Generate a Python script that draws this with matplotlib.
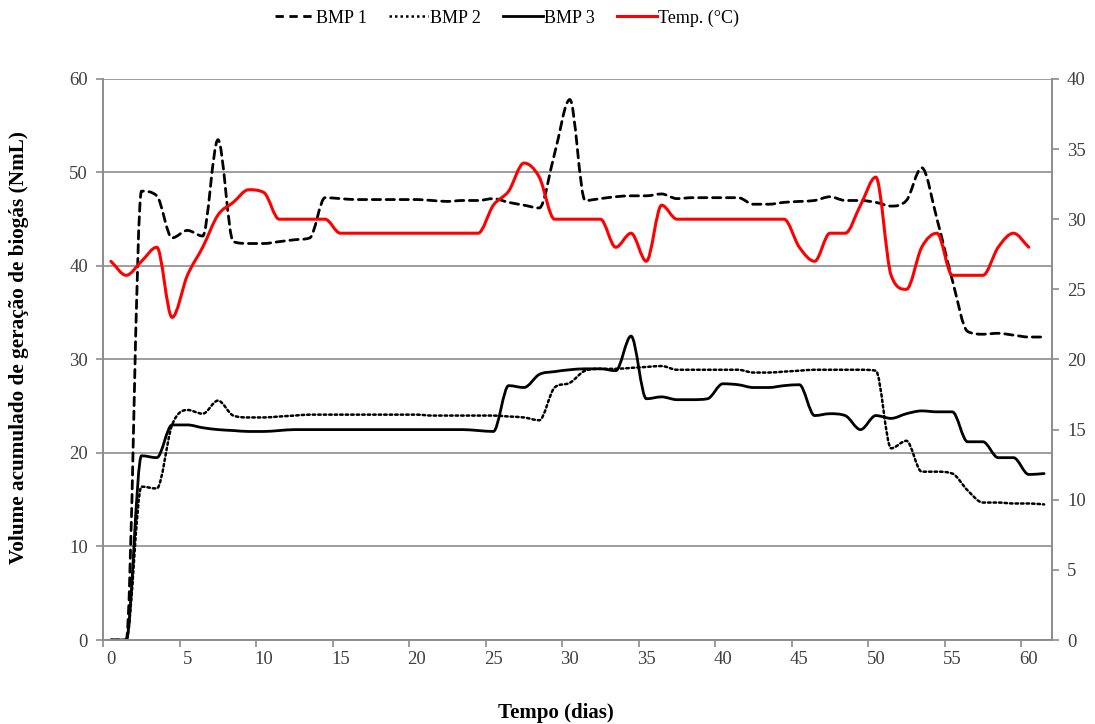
import numpy as np
import matplotlib

matplotlib.use("Agg")
import matplotlib.pyplot as plt
from matplotlib.lines import Line2D
from matplotlib.patches import PathPatch
from matplotlib.path import Path

plt.rcParams["font.family"] = ["Liberation Serif", "DejaVu Serif"]

days = list(range(62))
temp_days = list(range(61))

bmp1 = [0, 0, 48, 47.5, 43, 43.8, 43.2, 53.5, 42.6, 42.4,
        42.4, 42.6, 42.8, 43, 47.3, 47.2, 47.1, 47.1, 47.1, 47.1,
        47.1, 47.0, 46.9, 47, 47, 47.2, 46.8, 46.5, 46.2, 52,
        57.8, 47, 47.2, 47.4, 47.5, 47.5, 47.7, 47.2, 47.3, 47.3,
        47.3, 47.3, 46.6, 46.6, 46.8, 46.9, 47.0, 47.4, 47, 47,
        46.8, 46.4, 47, 50.5, 45, 38.5, 33, 32.7, 32.8, 32.6,
        32.4, 32.4]

bmp2 = [0, 0, 16.4, 16.2, 23, 24.6, 24.2, 25.6, 24, 23.8,
        23.8, 23.9, 24, 24.1, 24.1, 24.1, 24.1, 24.1, 24.1, 24.1,
        24.1, 24, 24, 24, 24, 24, 23.9, 23.8, 23.5, 27,
        27.5, 28.8, 29, 29, 29.1, 29.2, 29.3, 28.9, 28.9, 28.9,
        28.9, 28.9, 28.6, 28.6, 28.7, 28.8, 28.9, 28.9, 28.9, 28.9,
        28.8, 20.5, 21.3, 18, 18, 17.8, 16, 14.7, 14.7, 14.6,
        14.6, 14.5]

bmp3 = [0, 0, 19.7, 19.5, 23, 23, 22.7, 22.5, 22.4, 22.3,
        22.3, 22.4, 22.5, 22.5, 22.5, 22.5, 22.5, 22.5, 22.5, 22.5,
        22.5, 22.5, 22.5, 22.5, 22.4, 22.3, 27.2, 27, 28.4, 28.7,
        28.9, 29, 29, 28.8, 32.5, 25.8, 26, 25.7, 25.7, 25.8,
        27.4, 27.3, 27.0, 27, 27.2, 27.3, 24, 24.2, 24, 22.5,
        24, 23.7, 24.2, 24.5, 24.4, 24.4, 21.2, 21.2, 19.5, 19.5,
        17.7, 17.8]

temp = [27, 26, 27, 28, 23, 26, 28, 30.3, 31.2, 32.1,
        31.9, 30, 30, 30, 30, 29, 29, 29, 29, 29,
        29, 29, 29, 29, 29, 31, 32, 34, 33, 30,
        30, 30, 30, 28, 29, 27, 31, 30, 30, 30,
        30, 30, 30, 30, 30, 28, 27, 29, 29, 31,
        33, 26, 25, 28, 29, 26, 26, 26, 28, 29,
        28]

labels = ["BMP 1", "BMP 2", "BMP 3", "Temp. (°C)"]
GRAY = "#8c8c8c"
TXT = "#404040"


def smooth_path(x, y):
    # cubic bezier through the points, tangents limited so peaks stay on the data
    x = np.asarray(x, float)
    y = np.asarray(y, float)
    d = np.diff(y) / np.diff(x)
    m = np.zeros_like(y)
    m[0], m[-1] = d[0], d[-1]
    for k in range(1, len(y) - 1):
        if d[k - 1] * d[k] > 0:
            s = (d[k - 1] + d[k]) / 2
            lim = 3 * min(abs(d[k - 1]), abs(d[k]))
            m[k] = np.sign(s) * min(abs(s), lim)
    verts = [(x[0], y[0])]
    codes = [Path.MOVETO]
    for i in range(len(x) - 1):
        h = (x[i + 1] - x[i]) / 3
        verts += [(x[i] + h, y[i] + m[i] * h),
                  (x[i + 1] - h, y[i + 1] - m[i + 1] * h),
                  (x[i + 1], y[i + 1])]
        codes += [Path.CURVE4] * 3
    return Path(verts, codes)


fig = plt.figure(figsize=(10.95, 7.24), dpi=100)
ax = fig.add_axes([0.0943, 0.116, 0.8662, 0.775])
ax2 = ax.twinx()

styles = [
    (bmp1, dict(color="black", lw=2.0, linestyle=(0, (3, 2)))),
    (bmp2, dict(color="black", lw=1.8, linestyle=(0, (1, 1.2)))),
    (bmp3, dict(color="black", lw=2.0, linestyle="-")),
]
for vals, st in styles:
    ax.add_patch(PathPatch(smooth_path(days, vals), fill=False,
                           capstyle="round", joinstyle="round", **st))
ax2.add_patch(PathPatch(smooth_path(temp_days, temp), fill=False, color="red",
                        lw=2.2, capstyle="round", joinstyle="round"))

ax.set_xlim(-0.5, 61.5)
ax.set_ylim(0, 60)
ax2.set_ylim(0, 40)

ax.set_yticks(range(0, 61, 10))
ax2.set_yticks(range(0, 41, 5))
ax.set_xticks(range(0, 61, 5))
ax.set_xticks(np.arange(-0.5, 61, 5), minor=True)
ax.tick_params(axis="x", which="major", length=0, pad=8, labelsize=13.5, labelcolor=TXT)
ax.tick_params(axis="x", which="minor", length=5, width=1.2, color=GRAY, direction="out")
ax.tick_params(axis="y", length=5, width=1.2, color=GRAY, labelsize=13.5, labelcolor=TXT, pad=6)
ax2.tick_params(axis="y", length=5, width=1.2, color=GRAY, labelsize=13.5, labelcolor=TXT, pad=6)

ax.grid(axis="y", color=GRAY, lw=1.2)
ax.set_axisbelow(True)
for a in (ax, ax2):
    a.spines["top"].set_visible(False)
    for s in ("left", "right", "bottom"):
        a.spines[s].set_color(GRAY)
        a.spines[s].set_linewidth(1.2)

ax.set_ylabel("Volume acumulado de geração de biogás (NmL)", fontsize=15.3,
              fontweight="bold")
ax.yaxis.set_label_coords(-0.0785, 0.522)
ax.set_xlabel("Tempo (dias)", fontsize=15, fontweight="bold")
ax.xaxis.set_label_coords(0.477, -0.112)

handles = [
    Line2D([], [], color="black", lw=2.0, linestyle=(0, (3, 2))),
    Line2D([], [], color="black", lw=1.8, linestyle=(0, (1, 1.2))),
    Line2D([], [], color="black", lw=2.0),
    Line2D([], [], color="red", lw=2.2),
]
fig.legend(handles, labels, loc="center", bbox_to_anchor=(0.463, 0.975), ncol=4,
           frameon=False, fontsize=13, handlelength=2.2, handletextpad=0.1,
           columnspacing=1.2)

fig.savefig("out.png", dpi=100)
